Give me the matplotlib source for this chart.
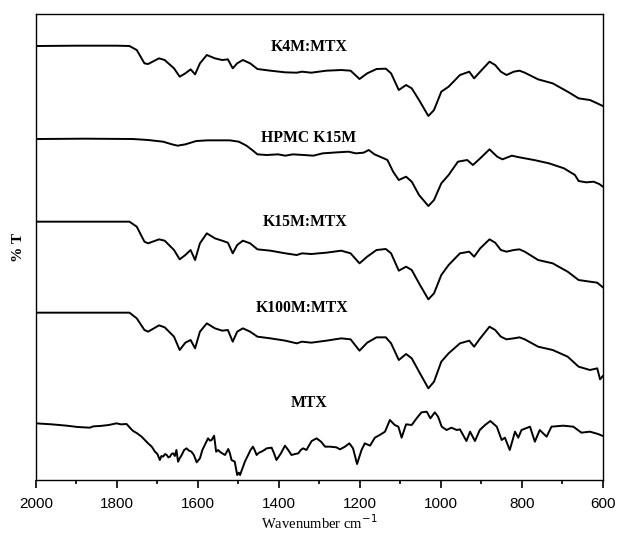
import matplotlib
matplotlib.use("Agg")
import matplotlib.pyplot as plt
from matplotlib.ticker import MultipleLocator

# wavenumber grid shared by the three drug:polymer blends
wn_mix = [2000, 1900, 1800, 1769, 1751, 1732, 1723, 1696, 1682, 1659, 1645, 1631, 1618,
          1607, 1595, 1578, 1558, 1540, 1526, 1514, 1503, 1489, 1471, 1453, 1421, 1384,
          1356, 1343, 1320, 1283, 1246, 1223, 1201, 1182, 1159, 1136, 1123, 1104, 1086,
          1072, 1054, 1031, 1017, 999, 981, 953, 930, 918, 903, 880, 866, 852, 838, 820,
          806, 793, 760, 724, 687, 660, 632, 614, 607, 600]

t_k4m = [252, 253, 253, 252, 240, 200, 198, 215, 210, 185, 160, 170, 182, 167, 200, 225,
         215, 210, 212, 185, 200, 210, 200, 183, 178, 173, 172, 175, 172, 178, 180, 178,
         153, 170, 183, 184, 170, 120, 135, 125, 90, 42, 60, 115, 130, 165, 175, 155, 175,
         205, 195, 175, 165, 175, 178, 172, 152, 140, 115, 95, 90, 80, 76, 72]

t_k15m = [235, 235, 235, 235, 220, 175, 170, 182, 178, 150, 122, 135, 150, 120, 170, 200,
          185, 178, 172, 140, 165, 178, 170, 152, 148, 140, 135, 140, 138, 142, 148, 140,
          110, 130, 150, 153, 140, 88, 100, 90, 50, 2, 20, 75, 105, 140, 145, 130, 155,
          182, 172, 150, 145, 150, 152, 145, 120, 110, 85, 60, 55, 52, 45, 38]

t_k100m = [262, 262, 262, 262, 245, 210, 205, 224, 218, 190, 150, 172, 180, 155, 205, 230,
           215, 208, 210, 175, 205, 215, 205, 190, 185, 178, 170, 175, 172, 178, 185, 182,
           148, 172, 188, 188, 170, 120, 138, 125, 85, 35, 55, 115, 140, 170, 178, 160, 185,
           220, 210, 190, 182, 185, 188, 182, 160, 150, 130, 100, 90, 95, 62, 72]

wn_hpmc = [2000, 1879, 1760, 1723, 1686, 1664, 1650, 1631, 1604, 1576, 1521, 1499, 1480,
           1466, 1453, 1430, 1402, 1384, 1366, 1338, 1315, 1292, 1256, 1228, 1210, 1191,
           1178, 1164, 1141, 1132, 1118, 1104, 1086, 1072, 1054, 1031, 1017, 999, 981, 958,
           935, 921, 903, 880, 861, 848, 825, 806, 770, 733, 696, 669, 660, 641, 623, 609, 600]
t_hpmc = [258, 259, 258, 255, 250, 242, 238, 242, 252, 254, 254, 250, 238, 225, 212, 210,
          212, 208, 212, 210, 208, 215, 218, 220, 215, 217, 225, 212, 200, 195, 160, 135,
          145, 130, 90, 57, 75, 125, 150, 190, 195, 180, 200, 227, 205, 197, 208, 203, 195,
          185, 170, 150, 132, 128, 130, 123, 115]

# pure drug: (wavenumber, %T) readings, noisier trace
mtx_points = [
    (2000, 230), (1961, 227), (1924, 223), (1897, 219), (1867, 217), (1858, 221),
    (1842, 222), (1820, 225), (1801, 230), (1790, 227), (1776, 228), (1768, 217),
    (1760, 207), (1750, 200), (1739, 190), (1731, 180), (1723, 170), (1714, 160),
    (1706, 145), (1700, 138), (1694, 120), (1690, 132), (1686, 130), (1681, 138),
    (1677, 135), (1673, 128), (1669, 130), (1665, 138), (1661, 140), (1657, 132),
    (1653, 150), (1649, 115), (1645, 125), (1640, 135), (1634, 150), (1628, 155),
    (1622, 148), (1616, 145), (1610, 135), (1603, 113), (1595, 125), (1589, 150),
    (1583, 165), (1575, 185), (1570, 178), (1566, 180), (1560, 193), (1555, 145),
    (1550, 150), (1546, 145), (1540, 140), (1533, 135), (1525, 153), (1521, 140),
    (1517, 120), (1509, 115), (1503, 75), (1499, 82), (1496, 75), (1490, 95),
    (1484, 115), (1476, 135), (1470, 150), (1464, 160), (1460, 150), (1455, 135),
    (1449, 142), (1443, 145), (1436, 150), (1430, 155), (1418, 157), (1412, 140),
    (1406, 120), (1395, 140), (1385, 163), (1377, 150), (1369, 135), (1360, 138),
    (1352, 140), (1346, 150), (1340, 155), (1332, 150), (1325, 165), (1319, 177),
    (1307, 185), (1296, 175), (1286, 160), (1274, 160), (1258, 158), (1249, 152),
    (1237, 160), (1226, 170), (1217, 155), (1207, 108), (1196, 150), (1188, 170),
    (1175, 163), (1163, 187), (1151, 195), (1138, 205), (1126, 240), (1114, 225),
    (1105, 220), (1097, 187), (1086, 227), (1072, 225), (1060, 245), (1048, 263),
    (1035, 265), (1026, 245), (1015, 263), (1007, 250), (998, 220), (986, 210),
    (974, 217), (961, 210), (953, 212), (937, 177), (928, 205), (916, 177),
    (904, 210), (891, 225), (878, 237), (862, 220), (850, 180), (842, 187),
    (830, 150), (817, 205), (809, 187), (801, 210), (780, 220), (768, 175),
    (756, 210), (739, 190), (727, 220), (698, 223), (673, 220), (653, 202),
    (632, 205), (612, 198), (600, 192),
]
wn_mtx = [p[0] for p in mtx_points]
t_mtx = [p[1] for p in mtx_points]

names = ["K4M:MTX", "HPMC K15M", "K15M:MTX", "K100M:MTX", "MTX"]
spectra = [(wn_mix, t_k4m), (wn_hpmc, t_hpmc), (wn_mix, t_k15m), (wn_mix, t_k100m), (wn_mtx, t_mtx)]

# vertical stacking of the traces and label anchors
offsets = [1110, 825, 600, 300, 0]
label_xy = [(1326, 1360), (1328, 1086), (1336, 834), (1343, 576), (1326, 291)]

fig = plt.figure(figsize=(6.19, 5.35), dpi=100)
ax = fig.add_axes([0.058, 0.1028, 0.916, 0.871])

for (wn, t), off in zip(spectra, offsets):
    ax.plot(wn, [v + off for v in t], color="black", lw=1.4, solid_joinstyle="round")

for name, (lx, ly) in zip(names, label_xy):
    ax.text(lx, ly, name, ha="center", va="center", fontsize=11.3,
            fontweight="bold", family="Liberation Serif")

ax.set_xlim(2000, 600)
ax.set_ylim(60, 1458)
ax.set_yticks([])
ax.xaxis.set_major_locator(MultipleLocator(200))
ax.xaxis.set_minor_locator(MultipleLocator(100))
ax.tick_params(axis="x", which="major", direction="out", length=6, width=1.2,
               labelsize=11, pad=6)
ax.tick_params(axis="x", which="minor", direction="out", length=3.2, width=1.2)
for lab in ax.get_xticklabels():
    lab.set_family("Liberation Sans")
for s in ax.spines.values():
    s.set_linewidth(1.0)

ax.set_xlabel("Wavenumber cm$^{-1}$", family="Liberation Serif", fontsize=10.5, labelpad=2)
ax.set_ylabel("% T", family="Liberation Serif", fontsize=11, fontweight="bold", labelpad=8)

fig.savefig("out.png", dpi=100)
